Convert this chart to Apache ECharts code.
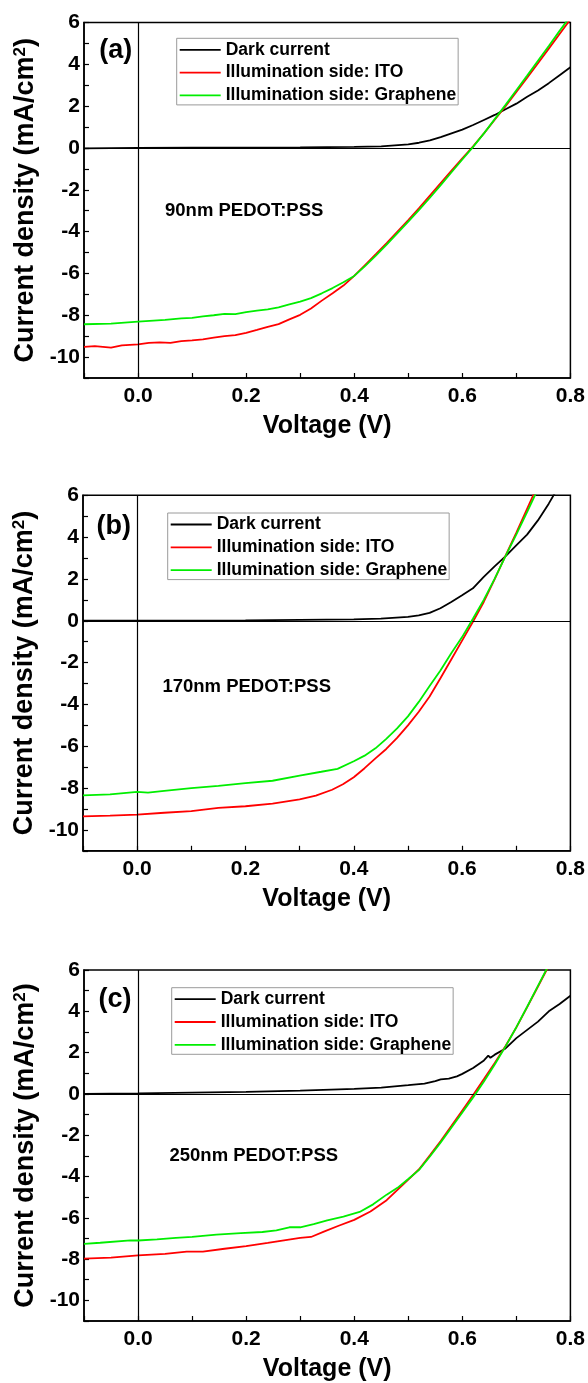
<!DOCTYPE html>
<html><head><meta charset="utf-8">
<script src="https://cdn.jsdelivr.net/npm/echarts@6/dist/echarts.min.js"></script>
<style>html,body{margin:0;padding:0;background:#fff}#c{width:588px;height:1383px}</style>
</head><body><div id="c"></div>
<script>
// ---- labels ----
const seriesNames = ['Dark current', 'Illumination side: ITO', 'Illumination side: Graphene'];
const panelTags = ['(a)', '(b)', '(c)'];
const panelNotes = ['90nm PEDOT:PSS', '170nm PEDOT:PSS', '250nm PEDOT:PSS'];
const xTitle = 'Voltage (V)';
const xMin = -0.1, xMax = 0.8, xStep = 0.1;
const yMin = -11, yMax = 6, yStep = 1;

// ---- panel (a) 90nm: [V, J] ----
const aDark = [[-0.1,-0.02],[0,0],[0.1,0.01],[0.2,0.02],[0.3,0.03],[0.4,0.05],[0.45,0.08],[0.5,0.17],[0.52,0.25],[0.54,0.36],[0.56,0.52],[0.58,0.7],[0.6,0.88],[0.62,1.1],[0.64,1.34],[0.66,1.58],[0.68,1.85],[0.7,2.12],[0.72,2.45],[0.74,2.75],[0.76,3.1],[0.78,3.48],[0.8,3.86]];
const aITO = [[-0.1,-9.51],[-0.08,-9.48],[-0.05,-9.55],[-0.03,-9.44],[0,-9.39],[0.02,-9.32],[0.04,-9.3],[0.06,-9.32],[0.08,-9.24],[0.1,-9.2],[0.12,-9.15],[0.14,-9.07],[0.16,-9.0],[0.18,-8.95],[0.2,-8.84],[0.22,-8.7],[0.24,-8.55],[0.26,-8.42],[0.28,-8.2],[0.3,-7.98],[0.32,-7.68],[0.34,-7.3],[0.36,-6.95],[0.38,-6.58],[0.4,-6.12],[0.42,-5.6],[0.44,-5.08],[0.46,-4.55],[0.48,-4.0],[0.5,-3.45],[0.52,-2.88],[0.54,-2.28],[0.56,-1.68],[0.58,-1.08],[0.6,-0.5],[0.62,0.08],[0.64,0.7],[0.66,1.35],[0.68,2.0],[0.7,2.68],[0.72,3.36],[0.74,4.05],[0.76,4.75],[0.78,5.45],[0.8,6.15]];
const aGraphene = [[-0.1,-8.43],[-0.05,-8.4],[0,-8.3],[0.05,-8.22],[0.08,-8.15],[0.1,-8.12],[0.12,-8.05],[0.14,-8.0],[0.16,-7.93],[0.18,-7.95],[0.2,-7.85],[0.22,-7.78],[0.24,-7.72],[0.26,-7.62],[0.28,-7.48],[0.3,-7.35],[0.32,-7.18],[0.34,-6.95],[0.36,-6.7],[0.38,-6.42],[0.4,-6.12],[0.42,-5.65],[0.44,-5.15],[0.46,-4.62],[0.48,-4.07],[0.5,-3.52],[0.52,-2.96],[0.54,-2.38],[0.56,-1.78],[0.58,-1.16],[0.6,-0.55],[0.62,0.05],[0.64,0.7],[0.66,1.38],[0.68,2.06],[0.7,2.76],[0.72,3.46],[0.74,4.17],[0.76,4.88],[0.78,5.6],[0.8,6.3]];

// ---- panel (b) 170nm ----
const bDark = [[-0.1,0],[0,0],[0.1,0.01],[0.2,0.02],[0.3,0.04],[0.4,0.07],[0.45,0.1],[0.5,0.19],[0.52,0.26],[0.54,0.38],[0.56,0.6],[0.58,0.9],[0.6,1.22],[0.62,1.55],[0.64,2.1],[0.66,2.6],[0.68,3.08],[0.7,3.6],[0.72,4.12],[0.74,4.8],[0.76,5.6],[0.77,6.05],[0.8,7.2]];
const bITO = [[-0.1,-9.35],[-0.05,-9.32],[0,-9.27],[0.05,-9.18],[0.1,-9.1],[0.15,-8.95],[0.2,-8.87],[0.25,-8.74],[0.3,-8.54],[0.33,-8.36],[0.36,-8.08],[0.38,-7.82],[0.4,-7.48],[0.42,-7.05],[0.44,-6.58],[0.46,-6.13],[0.48,-5.6],[0.5,-5.0],[0.52,-4.35],[0.54,-3.62],[0.56,-2.75],[0.58,-1.85],[0.6,-0.95],[0.62,-0.05],[0.64,0.9],[0.66,1.98],[0.68,3.1],[0.7,4.2],[0.72,5.35],[0.74,6.5]];
const bGraphene = [[-0.1,-8.35],[-0.05,-8.3],[0,-8.18],[0.02,-8.22],[0.05,-8.13],[0.1,-8.0],[0.15,-7.9],[0.2,-7.76],[0.25,-7.65],[0.3,-7.4],[0.34,-7.22],[0.37,-7.08],[0.4,-6.72],[0.42,-6.45],[0.44,-6.1],[0.46,-5.65],[0.48,-5.15],[0.5,-4.57],[0.52,-3.88],[0.54,-3.12],[0.56,-2.38],[0.58,-1.55],[0.6,-0.78],[0.62,0.1],[0.64,1.0],[0.66,2.0],[0.68,3.08],[0.7,4.12],[0.72,5.2],[0.74,6.3]];

// ---- panel (c) 250nm ----
const cDark = [[-0.1,0],[0,0.02],[0.1,0.06],[0.2,0.1],[0.3,0.16],[0.4,0.24],[0.45,0.3],[0.5,0.42],[0.53,0.5],[0.55,0.62],[0.56,0.7],[0.575,0.74],[0.59,0.85],[0.6,0.97],[0.62,1.25],[0.64,1.62],[0.648,1.85],[0.652,1.75],[0.66,1.9],[0.68,2.2],[0.7,2.7],[0.72,3.1],[0.74,3.5],[0.76,4.0],[0.78,4.35],[0.8,4.75]];
const cITO = [[-0.1,-7.98],[-0.05,-7.93],[0,-7.82],[0.05,-7.75],[0.09,-7.64],[0.12,-7.64],[0.16,-7.5],[0.2,-7.37],[0.24,-7.22],[0.27,-7.09],[0.3,-6.97],[0.32,-6.93],[0.345,-6.66],[0.37,-6.4],[0.4,-6.1],[0.43,-5.7],[0.46,-5.15],[0.48,-4.65],[0.5,-4.15],[0.52,-3.65],[0.54,-2.98],[0.56,-2.28],[0.58,-1.55],[0.6,-0.8],[0.62,-0.05],[0.64,0.72],[0.66,1.5],[0.68,2.32],[0.7,3.22],[0.72,4.2],[0.74,5.2],[0.76,6.2]];
const cGraphene = [[-0.1,-7.26],[-0.07,-7.21],[-0.014,-7.1],[0,-7.1],[0.035,-7.05],[0.07,-6.97],[0.1,-6.93],[0.145,-6.82],[0.19,-6.74],[0.23,-6.69],[0.256,-6.61],[0.28,-6.46],[0.3,-6.46],[0.325,-6.31],[0.35,-6.13],[0.38,-5.94],[0.41,-5.72],[0.435,-5.35],[0.46,-4.88],[0.48,-4.55],[0.5,-4.12],[0.52,-3.68],[0.54,-3.03],[0.56,-2.35],[0.58,-1.63],[0.6,-0.9],[0.62,-0.17],[0.64,0.6],[0.66,1.42],[0.68,2.3],[0.7,3.23],[0.72,4.22],[0.74,5.23],[0.76,6.25]];

const panels = [
  {dark: aDark, ito: aITO, gra: aGraphene},
  {dark: bDark, ito: bITO, gra: bGraphene},
  {dark: cDark, ito: cITO, gra: cGraphene}
];

// ---- layout / style ----
const FONT = 'Arial, "Liberation Sans", sans-serif';
const grids = [
  {left: 84, top: 22.5, width: 488, height: 355.5},
  {left: 83, top: 495.3, width: 487.7, height: 355.5},
  {left: 84, top: 970, width: 488, height: 356}
];
const legendPos = [{left: 176.7, top: 38.3}, {left: 167.7, top: 513}, {left: 171.7, top: 987.7}];
const tagPos = [[115.7, 51], [113.8, 526.7], [115, 999.7]];
const notePos = [[165, 211], [162.4, 686.7], [169.5, 1155.7]];
const colors = ['#000000', '#ff0000', '#00ee00'];

const option = {
  animation: false,
  backgroundColor: '#fff',
  grid: grids.map(g => Object.assign({show: true, borderColor: '#000', borderWidth: 1.5, backgroundColor: 'transparent', containLabel: false}, g)),
  xAxis: grids.map((g, i) => ({
    gridIndex: i, type: 'value', min: xMin, max: xMax, interval: xStep,
    axisLine: {show: true, onZero: false, lineStyle: {color: '#000', width: 1.5}},
    axisTick: {show: true, inside: true, length: 5, lineStyle: {color: '#000', width: 1.2}},
    splitLine: {show: false},
    axisLabel: {
      color: '#000', fontSize: 21, fontWeight: 'bold', fontFamily: FONT, margin: 8,
      formatter: v => (Math.round(v * 10) % 2 === 0 ? (Math.round(v * 10) / 10).toFixed(1) : '')
    },
    name: xTitle, nameLocation: 'middle', nameGap: 36,
    nameTextStyle: {color: '#000', fontSize: 25, fontWeight: 'bold', fontFamily: FONT}
  })),
  yAxis: grids.map((g, i) => ({
    gridIndex: i, type: 'value', min: yMin, max: yMax, interval: yStep,
    axisLine: {show: true, onZero: false, lineStyle: {color: '#000', width: 1.5}},
    axisTick: {show: true, inside: true, length: 5, lineStyle: {color: '#000', width: 1.2}},
    splitLine: {show: false},
    axisLabel: {
      color: '#000', fontSize: 21, fontWeight: 'bold', fontFamily: FONT, margin: 4,
      formatter: v => (Math.round(v) % 2 === 0 ? String(Math.round(v)) : '')
    },
    name: '{t|Current density (mA/cm}{s|2}{t|)}', nameLocation: 'middle', nameGap: 45,
    nameTextStyle: {
      rich: {
        t: {color: '#000', fontSize: 27, fontWeight: 'bold', fontFamily: FONT},
        s: {color: '#000', fontSize: 17, fontWeight: 'bold', fontFamily: FONT, verticalAlign: 'top'}
      }
    }
  })),
  legend: legendPos.map(p => ({
    left: p.left, top: p.top, orient: 'vertical', data: seriesNames,
    icon: 'rect', itemWidth: 41, itemHeight: 1.8, itemGap: 4.8, padding: [2.5, 2, 0.5, 3],
    borderColor: '#9a9a9a', borderWidth: 1, selectedMode: false,
    textStyle: {color: '#000', fontSize: 17.5, fontWeight: 'bold', fontFamily: FONT, lineHeight: 18}
  })),
  series: [],
  graphic: []
};

panels.forEach((p, i) => {
  [p.dark, p.ito, p.gra].forEach((d, k) => {
    const s = {
      name: seriesNames[k], type: 'line', xAxisIndex: i, yAxisIndex: i,
      data: d, symbol: 'none', smooth: false, clip: true,
      color: colors[k], lineStyle: {color: colors[k], width: 1.8}, z: 3 + k
    };
    if (k === 0) {
      s.markLine = {
        silent: true, symbol: ['none', 'none'], label: {show: false},
        lineStyle: {color: '#000', width: 1.2, type: 'solid'},
        data: [{xAxis: 0}, {yAxis: 0}]
      };
    }
    option.series.push(s);
  });
  option.graphic.push({
    type: 'text', x: tagPos[i][0], y: tagPos[i][1], z: 10,
    style: {text: panelTags[i], fill: '#000', font: 'bold 27px ' + FONT, align: 'center', verticalAlign: 'middle'}
  });
  option.graphic.push({
    type: 'text', x: notePos[i][0], y: notePos[i][1], z: 10,
    style: {text: panelNotes[i], fill: '#000', font: 'bold 18.5px ' + FONT, align: 'left', verticalAlign: 'middle'}
  });
});

const chart = echarts.init(document.getElementById('c'), null, {renderer: 'canvas'});
chart.setOption(option);
</script>
</body></html>
